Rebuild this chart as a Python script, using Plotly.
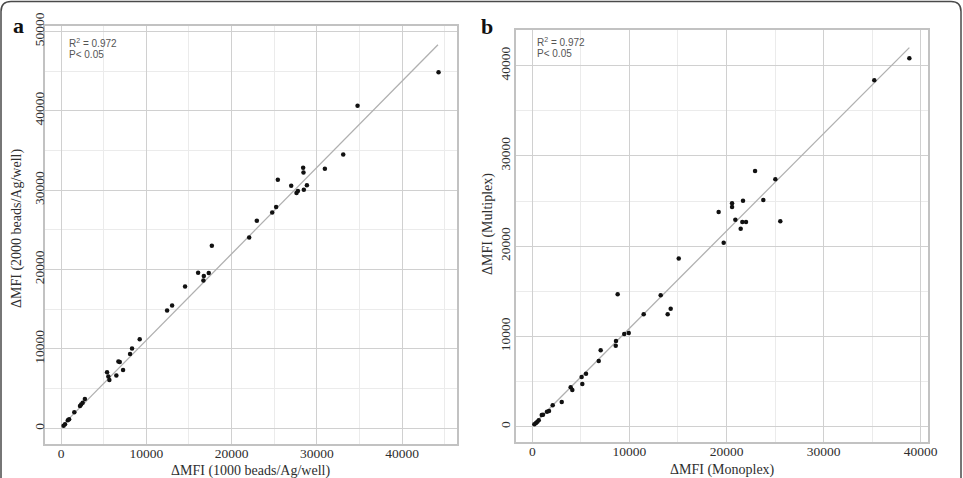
import plotly.graph_objects as go

W, H = 963, 478

# ---------------- data ----------------
a_x = [300, 470, 800, 950, 1560, 2230, 2360, 2540, 2800, 5400, 5550, 5670, 6490, 6730, 6890,
       7280, 8100, 8330, 9230, 12440, 13030, 14550, 16080, 16700, 16750, 17330, 17690, 22070,
       22970, 24770, 25230, 25430, 27000, 27620, 27780, 28400, 28440, 28480, 28840, 30950,
       33100, 34780, 44280]
a_y = [330, 500, 1000, 1150, 2020, 2800, 3000, 3230, 3680, 7060, 6510, 6090, 6650, 8400, 8360,
       7350, 9370, 10040, 11220, 14830, 15460, 17860, 19580, 18620, 19170, 19550, 22990, 24040,
       26140, 27190, 27870, 31310, 30550, 29630, 29890, 32820, 32230, 30050, 30600, 32700,
       34500, 40640, 44840]

b_x = [210, 380, 520, 660, 970, 1100, 1510, 1720, 2100, 3030, 3950, 4120, 5080, 5150, 5530,
       6840, 7040, 8590, 8620, 8790, 9470, 9930, 11470, 13220, 13940, 14250, 15080, 19190,
       19710, 20570, 20570, 20910, 21460, 21630, 21700, 22010, 22940, 23790, 25030, 25540,
       35220, 38830]
b_y = [270, 410, 550, 710, 1300, 1330, 1660, 1740, 2370, 2740, 4360, 4070, 5510, 4730, 5870,
       7280, 8460, 8980, 9500, 14670, 10270, 10380, 12450, 14560, 12450, 13080, 18620, 23790,
       20390, 24750, 24340, 22940, 21940, 22680, 25040, 22680, 28330, 25120, 27410, 22760,
       38380, 40820]

# regression lines (slope, intercept, x-extent)
fit_a = dict(slope=1.088, intercept=200, x0=270, x1=44210)
fit_b = dict(slope=1.079, intercept=100, x0=100, x1=38830)

r2_text = "R<sup>2</sup> = 0.972"
p_text = "P< 0.05"

x_title_a = "ΔMFI (1000 beads/Ag/well)"
y_title_a = "ΔMFI (2000 beads/Ag/well)"
x_title_b = "ΔMFI (Monoplex)"
y_title_b = "ΔMFI (Multiplex)"

# ---------------- figure ----------------
def px(x):
    return x / W

def py(y):
    return 1 - y / H

fig = go.Figure()

for (xs, ys, fit, xa, ya) in [(a_x, a_y, fit_a, "x", "y"), (b_x, b_y, fit_b, "x2", "y2")]:
    lx = [fit["x0"], fit["x1"]]
    ly = [fit["intercept"] + fit["slope"] * v for v in lx]
    fig.add_trace(go.Scatter(x=lx, y=ly, mode="lines", xaxis=xa, yaxis=ya,
                             line=dict(color="#b0b0b0", width=1.3), hoverinfo="skip",
                             showlegend=False))
    fig.add_trace(go.Scatter(x=xs, y=ys, mode="markers", xaxis=xa, yaxis=ya,
                             marker=dict(color="#111111", size=4.5), showlegend=False))

tickfont = dict(family="Liberation Serif", size=13.5, color="#2e2e2e")
grid_major = "#d0d0d0"
grid_minor = "#ebebeb"
border = "#c2c2c2"

def axis_common(**kw):
    d = dict(showgrid=True, gridcolor=grid_major, gridwidth=1, automargin=False,
             zeroline=False, showline=True, mirror=True, linecolor=border, linewidth=1.5,
             ticks="", tickfont=tickfont, tick0=0, dtick=10000,
             minor=dict(dtick=5000, tick0=0, showgrid=True, gridcolor=grid_minor, gridwidth=1),
             tickformat="d")
    d.update(kw)
    return d

fig.update_layout(
    template="none",
    width=W, height=H, margin=dict(l=0, r=0, t=0, b=0, pad=0),
    paper_bgcolor="white", plot_bgcolor="white", showlegend=False,
    xaxis=axis_common(domain=[px(45), px(457.3)], range=[-1878, 46480], anchor="y",
                      ticklabelstandoff=-4),
    yaxis=axis_common(domain=[py(444), py(26)], range=[-1977, 50670], anchor="x",
                      tickangle=-90, ticklabelstandoff=-6),
    xaxis2=axis_common(domain=[px(516), px(927.7)], range=[-1680, 40720], anchor="y2",
                       ticklabelstandoff=-4),
    yaxis2=axis_common(domain=[py(442.3), py(30)], range=[-1730, 43950], anchor="x2",
                       tickangle=-90, ticklabelstandoff=-1),
)

ann_font = dict(family="Liberation Sans", size=10, color="#555555")
title_font = dict(family="Liberation Serif", size=14, color="#2e2e2e")
label_font = dict(family="Liberation Serif", size=22, color="#111111")

anns = [
    dict(x=px(67), y=py(43), text=r2_text, font=ann_font, xanchor="left"),
    dict(x=px(67), y=py(54.5), text=p_text, font=ann_font, xanchor="left"),
    dict(x=px(535), y=py(42), text=r2_text, font=ann_font, xanchor="left"),
    dict(x=px(535), y=py(53.5), text=p_text, font=ann_font, xanchor="left"),
    dict(x=px(250), y=py(471), text=x_title_a, font=title_font),
    dict(x=px(17), y=py(229), text=y_title_a, font=title_font, textangle=-90),
    dict(x=px(722), y=py(470), text=x_title_b, font=title_font),
    dict(x=px(488), y=py(224), text=y_title_b, font=title_font, textangle=-90),
    dict(x=px(18), y=py(26), text="<b>a</b>", font=label_font),
    dict(x=px(487), y=py(27), text="<b>b</b>", font=label_font),
]
for a in anns:
    a.update(xref="paper", yref="paper", showarrow=False)
    a.setdefault("xanchor", "center")
    a.setdefault("yanchor", "middle")
fig.update_layout(annotations=anns)

# rounded outer frame
x0, x1, yt, r = 1, 961, 1.5, 10
path = (f"M {px(x0)},{py(H + 5)} L {px(x0)},{py(yt + r)} Q {px(x0)},{py(yt)} {px(x0 + r)},{py(yt)} "
        f"L {px(x1 - r)},{py(yt)} Q {px(x1)},{py(yt)} {px(x1)},{py(yt + r)} L {px(x1)},{py(H + 5)}")
fig.add_shape(type="path", path=path, xref="paper", yref="paper",
              line=dict(color="#4a4a4a", width=1.5))

fig.write_html("out.html")
